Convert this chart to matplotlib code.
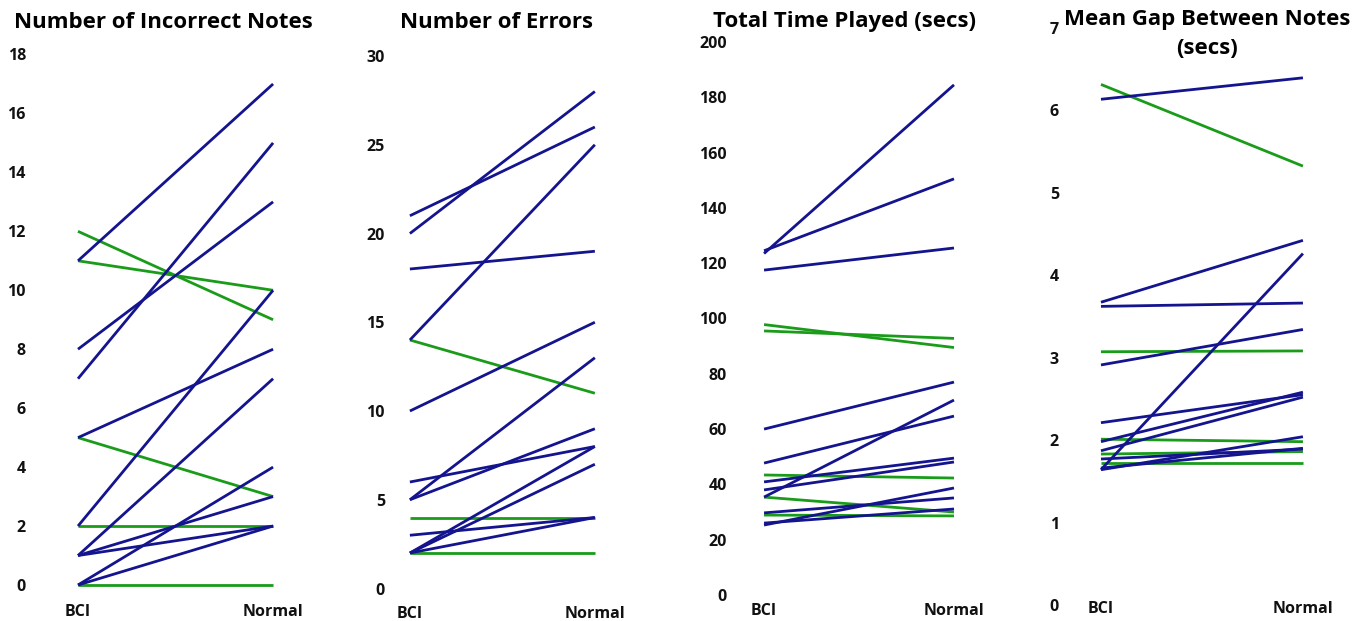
import matplotlib
matplotlib.use("Agg")
import matplotlib.pyplot as plt

plt.rcParams['font.family'] = ['Open Sans', 'DejaVu Sans']

# ---------------- data ----------------
categories = ["BCI", "Normal"]

titles = ["Number of Incorrect Notes", "Number of Errors",
          "Total Time Played (secs)", "Mean Gap Between Notes\n(secs)"]

# Panel 1: Number of Incorrect Notes
notes_up_bci = [11, 7, 8, 2, 5, 1, 0, 1, 1, 0]
notes_up_normal = [17, 15, 13, 10, 8, 7, 4, 3, 2, 2]
notes_down_bci = [12, 11, 5, 2, 0]
notes_down_normal = [9, 10, 3, 2, 0]
notes_ticks = [0, 2, 4, 6, 8, 10, 12, 14, 16, 18]

# Panel 2: Number of Errors
errors_up_bci = [20, 21, 14, 18, 10, 5, 6, 5, 2, 2, 3, 2]
errors_up_normal = [28, 26, 25, 19, 15, 13, 8, 9, 8, 7, 4, 4]
errors_down_bci = [14, 4, 2]
errors_down_normal = [11, 4, 2]
errors_ticks = [0, 5, 10, 15, 20, 25, 30]

# Panel 3: Total Time Played (secs)
time_up_bci = [123.5, 124.5, 117.5, 60, 47.7, 35.4, 40.9, 38.0, 29.7, 25.3, 26.0]
time_up_normal = [184.5, 150.5, 125.5, 77, 64.7, 70.5, 49.5, 48.1, 35.1, 38.7, 31.1]
time_down_bci = [97.8, 95.5, 43.4, 35.4, 28.9]
time_down_normal = [89.5, 92.8, 42.3, 30.0, 28.6]
time_ticks = [0, 20, 40, 60, 80, 100, 120, 140, 160, 180, 200]

# Panel 4: Mean Gap Between Notes (secs)
gap_up_bci = [6.13, 3.67, 3.62, 2.91, 1.64, 2.21, 1.98, 1.87, 1.77, 1.64, 1.66]
gap_up_normal = [6.39, 4.42, 3.66, 3.34, 4.26, 2.55, 2.58, 2.52, 1.89, 2.04, 1.90]
gap_down_bci = [6.31, 3.07, 2.01, 1.83, 1.72]
gap_down_normal = [5.32, 3.08, 1.98, 1.86, 1.72]
gap_ticks = [0, 1, 2, 3, 4, 5, 6, 7]

BLUE = "#14148f"
GREEN = "#1a9c1a"

W, H = 1369, 621
fig = plt.figure(figsize=(W / 100, H / 100), dpi=100)

# layout in pixels: (left, right, bottom, top), xlim, ylim, xtick pad (pt)
layouts = [
    dict(px=(30, 300, 589, 54.5), xlim=(-0.246, 1.138), ylim=(-0.136, 18), xpad=10.5,
         title_xy=(163, 23)),
    dict(px=(389, 630, 592.5, 56), xlim=(-0.113, 1.19), ylim=(-0.225, 30), xpad=9.5,
         title_xy=(497, 23)),
    dict(px=(731, 980, 599, 42), xlim=(-0.174, 1.137), ylim=(-1.45, 200), xpad=2.6,
         title_xy=(844, 21)),
    dict(px=(1063, 1330, 609, 27.5), xlim=(-0.188, 1.134), ylim=(-0.048, 7), xpad=-6.0,
         title_xy=(1207, 34)),
]

panels = [
    (notes_up_bci, notes_up_normal, notes_down_bci, notes_down_normal, notes_ticks),
    (errors_up_bci, errors_up_normal, errors_down_bci, errors_down_normal, errors_ticks),
    (time_up_bci, time_up_normal, time_down_bci, time_down_normal, time_ticks),
    (gap_up_bci, gap_up_normal, gap_down_bci, gap_down_normal, gap_ticks),
]

xpos = list(range(len(categories)))

for lay, (ub, un, db, dn, ticks), title in zip(layouts, panels, titles):
    L, R, B, T = lay["px"]
    ax = fig.add_axes([L / W, 1 - B / H, (R - L) / W, (B - T) / H])
    for b, n in zip(db, dn):
        ax.plot(xpos, [b, n], color=GREEN, lw=2.0, solid_capstyle='butt')
    for b, n in zip(ub, un):
        ax.plot(xpos, [b, n], color=BLUE, lw=2.0, solid_capstyle='butt')
    ax.set_xlim(*lay["xlim"])
    ax.set_ylim(*lay["ylim"])
    ax.set_xticks(xpos)
    ax.set_xticklabels(categories)
    ax.set_yticks(ticks)
    ax.set_yticklabels([str(t) for t in ticks])
    for s in ax.spines.values():
        s.set_visible(False)
    ax.tick_params(axis='both', length=0, labelsize=11.5, colors='#111111')
    ax.tick_params(axis='y', pad=3)
    ax.tick_params(axis='x', pad=lay["xpad"])
    for lab in ax.get_xticklabels() + ax.get_yticklabels():
        lab.set_fontweight('bold')
    tx, ty = lay["title_xy"]
    fig.text(tx / W, 1 - ty / H, title, ha='center', va='center',
             fontsize=16, fontweight='bold', color='black',
             multialignment='center', linespacing=1.45)

fig.savefig("out.png", dpi=100)
